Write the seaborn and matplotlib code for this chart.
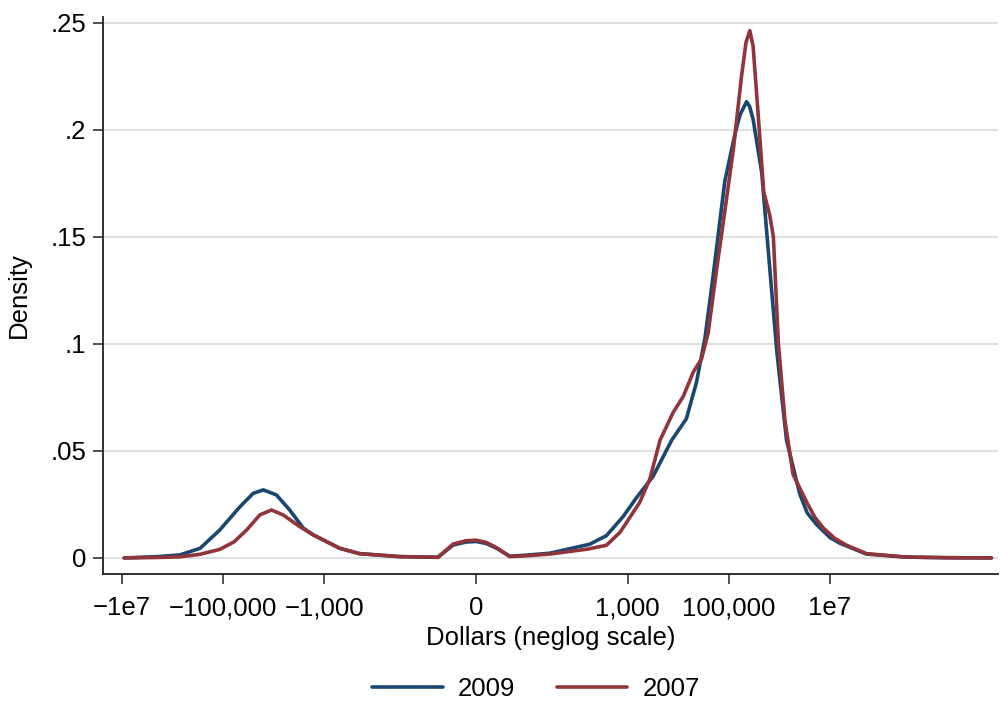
import numpy as np
import pandas as pd
import matplotlib
matplotlib.use("Agg")
import matplotlib.pyplot as plt
import seaborn as sns

sns.set_style("white")
plt.rcParams["font.family"] = ["Liberation Sans", "DejaVu Sans"]
plt.rcParams["text.color"] = "black"
plt.rcParams["axes.labelcolor"] = "black"
plt.rcParams["xtick.color"] = "black"
plt.rcParams["ytick.color"] = "black"

# density curves, x in neglog units: sign(x)*log10(1+|x|)
u_2009 = [-6.95, -6.3, -5.85, -5.45, -5.06, -4.66, -4.4, -4.2, -3.94, -3.68, -3.41, -3.21,
          -2.69, -2.3, -1.5, -0.75, -0.45, -0.2, 0.0, 0.2, 0.41, 0.67, 1.0, 1.46,
          2.25, 2.58, 2.91, 3.17, 3.5, 3.87, 4.16, 4.36, 4.53, 4.69, 4.92, 5.12, 5.22, 5.35,
          5.41, 5.48, 5.65, 5.81, 5.95, 6.14, 6.4, 6.55, 6.73, 7.0, 7.2, 7.72, 8.5, 9.3, 10.19]
d_2009 = [0.0, 0.0006, 0.0014, 0.0045, 0.0131, 0.024, 0.0302, 0.0318, 0.0294, 0.0224, 0.0139,
          0.0107, 0.0045, 0.002, 0.0006, 0.0003, 0.006, 0.0074, 0.0077, 0.0068, 0.0045, 0.0008,
          0.0013, 0.0022, 0.0064, 0.0104, 0.0193, 0.028, 0.038, 0.055, 0.065,
          0.082, 0.103, 0.132, 0.176, 0.198, 0.207, 0.2132, 0.211, 0.205, 0.18, 0.135, 0.096,
          0.055, 0.030, 0.021, 0.0157, 0.0095, 0.0068, 0.0018, 0.0004, 0.0001, 0.0]

u_2007 = [-6.95, -6.3, -5.85, -5.45, -5.06, -4.78, -4.53, -4.27, -4.04, -3.81, -3.48, -3.21,
          -2.69, -2.3, -1.5, -0.75, -0.45, -0.2, 0.0, 0.2, 0.41, 0.67, 1.0, 1.46, 2.2,
          2.58, 2.85, 3.24, 3.44, 3.64, 3.9, 4.1, 4.3, 4.46, 4.59, 4.76, 4.92, 5.09, 5.25, 5.34,
          5.415, 5.48, 5.58, 5.69, 5.81, 5.88, 5.98, 6.11, 6.27, 6.54, 6.7, 6.87, 7.1, 7.33,
          7.72, 8.5, 9.3, 10.19]
d_2007 = [0.0, 0.0002, 0.0005, 0.0017, 0.004, 0.0075, 0.0131, 0.0201, 0.0224, 0.0201, 0.0146,
          0.0107, 0.0045, 0.002, 0.0006, 0.0003, 0.0065, 0.008, 0.0083, 0.0073, 0.0048,
          0.0006, 0.001, 0.0018, 0.0041, 0.0059, 0.012, 0.026, 0.037, 0.055, 0.068, 0.0755,
          0.087, 0.093, 0.105, 0.135, 0.162, 0.191, 0.225, 0.241, 0.2464, 0.239, 0.207, 0.171,
          0.16, 0.15, 0.10, 0.064, 0.039, 0.026, 0.019, 0.0139, 0.009, 0.0059, 0.002, 0.0004,
          0.0001, 0.0]

years = ["2009", "2007"]
colors = {"2009": "#1a476f", "2007": "#90353b"}

x_tick_vals = [-1e7, -1e5, -1e3, 0, 1e3, 1e5, 1e7]
x_tick_labels = ["\u22121e7", "\u2212100,000", "\u22121,000", "0", "1,000", "100,000", "1e7"]
y_ticks = [0, 0.05, 0.1, 0.15, 0.2, 0.25]
y_tick_labels = ["0", ".05", ".1", ".15", ".2", ".25"]

df = pd.concat([
    pd.DataFrame({"u": u_2009, "density": d_2009, "year": "2009"}),
    pd.DataFrame({"u": u_2007, "density": d_2007, "year": "2007"}),
])

fig = plt.figure(figsize=(10, 7.04), dpi=100)
ax = fig.add_axes([0.103, 0.1847, 0.895, 0.7912])

sns.lineplot(data=df, x="u", y="density", hue="year", hue_order=years, palette=colors,
             linewidth=2.6, sort=False, estimator=None, legend=False, ax=ax)

xt = [np.sign(v) * np.log10(1 + abs(v)) for v in x_tick_vals]
ax.set_xticks(xt)
ax.set_xticklabels(x_tick_labels)
ax.set_yticks(y_ticks)
ax.set_yticklabels(y_tick_labels)
ax.set_xlim(-7.37, 10.32)
ax.set_ylim(-0.0075, 0.2528)

ax.grid(axis="y", color="#e0e0e0", linewidth=1.4)
ax.set_axisbelow(True)
for s in ["top", "right"]:
    ax.spines[s].set_visible(False)
for s in ["left", "bottom"]:
    ax.spines[s].set_color("#222222")
    ax.spines[s].set_linewidth(1.3)
ax.tick_params(axis="both", direction="out", length=7, width=1.1, color="#222222",
               labelsize=18.5, left=True, bottom=True)
ax.tick_params(axis="x", pad=9)
ax.tick_params(axis="y", pad=5)

ax.set_xlabel("Dollars (neglog scale)", fontsize=18.5, labelpad=4)
ax.set_ylabel("Density", fontsize=18.5, labelpad=14)

handles = [plt.Line2D([], [], color=colors[y], linewidth=2.6) for y in years]
fig.legend(handles, years, loc="center", bbox_to_anchor=(0.536, 0.021), ncol=2,
           frameon=False, fontsize=18.5, handlelength=2.75, columnspacing=1.6,
           handletextpad=0.6)

fig.savefig("out.png", dpi=100)
